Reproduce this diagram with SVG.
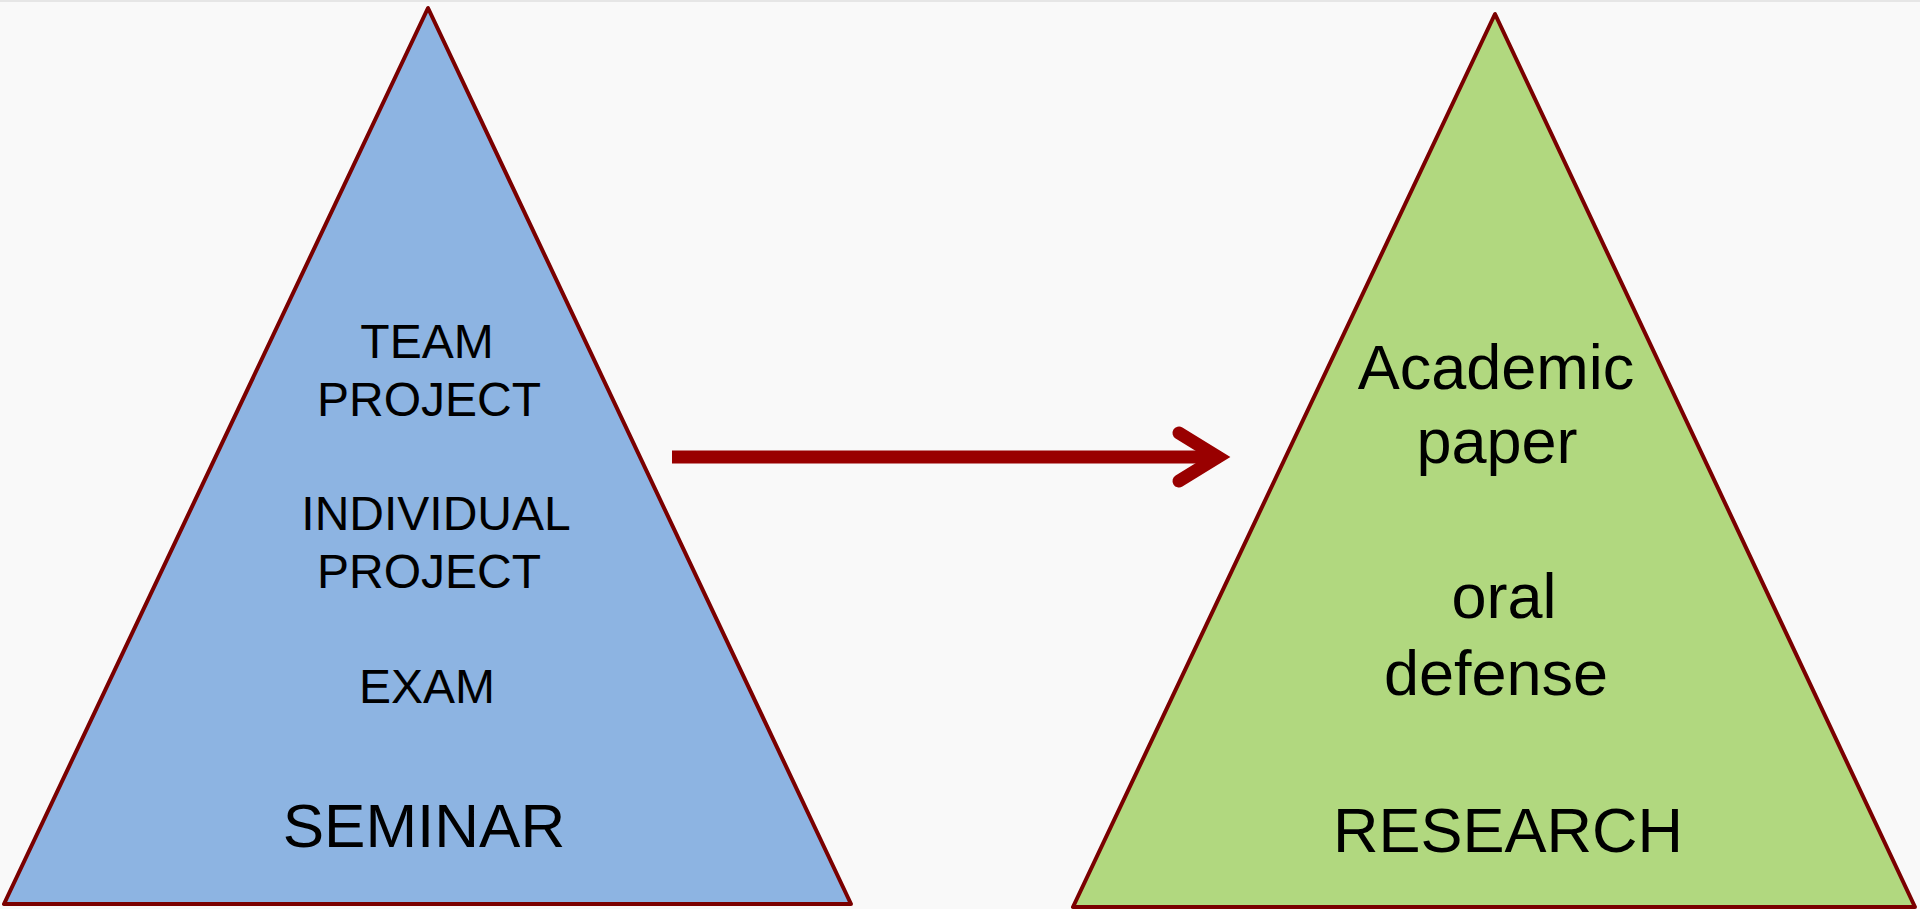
<svg xmlns="http://www.w3.org/2000/svg" width="1920" height="909" viewBox="0 0 1920 909">
  <style>
    .tri { stroke: #7a0000; stroke-width: 4; stroke-linejoin: round; }
    .lbl { font-family: "Liberation Sans", Arial, sans-serif; fill: #000; text-anchor: middle; }
    .s { font-size: 48px; }
    .l { font-size: 63px; }
    .arrow { stroke: #990000; fill: none; stroke-width: 13; }
  </style>
  <rect x="0" y="0" width="1920" height="909" fill="#f9f9f9"/>
  <rect x="0" y="0" width="1920" height="2" fill="#e6e6e6"/>
  <g id="seminar">
    <polygon class="tri" fill="#8db4e2" points="428,8 4,904 851,904"/>
    <text class="lbl s" x="427" y="358">TEAM</text>
    <text class="lbl s" x="429" y="416">PROJECT</text>
    <text class="lbl s" x="436" y="530">INDIVIDUAL</text>
    <text class="lbl s" x="429" y="588">PROJECT</text>
    <text class="lbl s" x="427" y="703">EXAM</text>
    <text class="lbl" style="font-size:62px" x="424" y="847">SEMINAR</text>
  </g>
  <g id="research">
    <polygon class="tri" fill="#b1d87f" points="1495,14 1073,907 1915,907"/>
    <text class="lbl l" x="1496" y="389">Academic</text>
    <text class="lbl l" x="1497" y="463">paper</text>
    <text class="lbl l" x="1504" y="618">oral</text>
    <text class="lbl l" x="1496" y="695">defense</text>
    <text class="lbl l" x="1508" y="852">RESEARCH</text>
  </g>
  <g id="connectors">
    <line class="arrow" x1="672" y1="457" x2="1214" y2="457"/>
    <polyline class="arrow" stroke-linecap="round" stroke-linejoin="miter" points="1179,433 1218,457 1179,481"/>
  </g>
</svg>
